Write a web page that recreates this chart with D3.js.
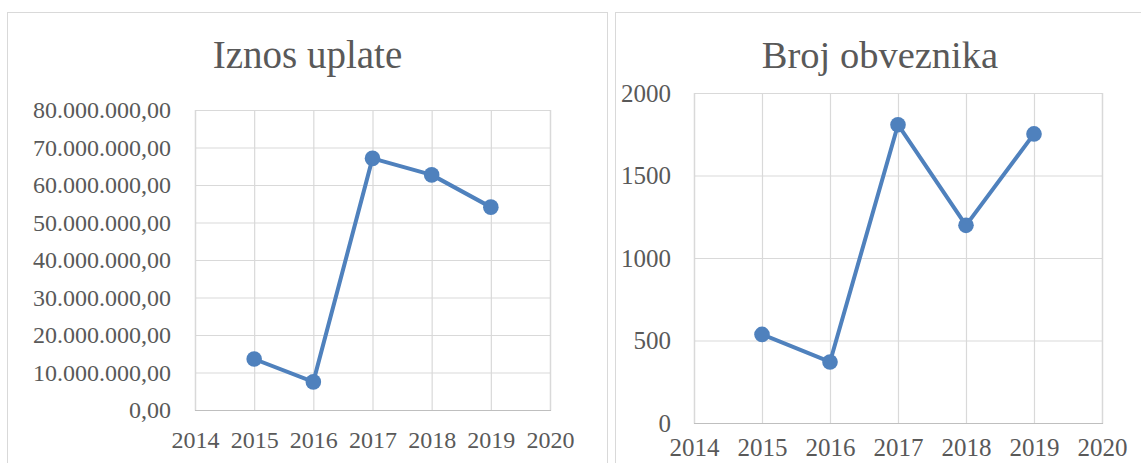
<!DOCTYPE html>
<html>
<head>
  <meta charset="utf-8">
  <title>Iznos uplate / Broj obveznika</title>
  <style>
    body { margin: 0; background: #fff; }
    svg text { font-family: "Liberation Serif", serif; fill: #595959; }
  </style>
</head>
<body>
  <div id="chart"></div>
  <script src="https://cdn.jsdelivr.net/npm/d3@7"></script>
  <script>

    // data
    const years = [2015, 2016, 2017, 2018, 2019];
    const iznosUplate = [13600000, 7500000, 67100000, 62700000, 54100000];
    const brojObveznika = [537, 370, 1808, 1198, 1752];
    const yearTicks = [2014, 2015, 2016, 2017, 2018, 2019, 2020];
    const iznosTicks = [0, 10000000, 20000000, 30000000, 40000000, 50000000, 60000000, 70000000, 80000000];
    const brojTicks = [0, 500, 1000, 1500, 2000];

    const blue = "#4f81bd";
    const grid = "#d9d9d9";

    const svg = d3.select("#chart").append("svg")
      .attr("width", 1141)
      .attr("height", 463);

    svg.append("rect").attr("width", 1141).attr("height", 463).attr("fill", "#fff");

    // 80.000.000,00 style
    function fmtHr(v) {
      let s = v.toFixed(2).split(".");
      return s[0].replace(/\B(?=(\d{3})+(?!\d))/g, ".") + "," + s[1];
    }

    function panel(cfg) {
      const g = svg.append("g");

      // chart border
      g.append("rect")
        .attr("x", cfg.box[0] + 0.5).attr("y", cfg.box[1] + 0.5)
        .attr("width", cfg.box[2]).attr("height", cfg.box[3])
        .attr("fill", "#fff").attr("stroke", grid);

      g.append("text")
        .attr("x", cfg.titleX).attr("y", cfg.titleY)
        .attr("text-anchor", "middle")
        .attr("font-size", cfg.titleSize)
        .text(cfg.title);

      const x = d3.scaleLinear().domain([2014, 2020]).range([cfg.plot.left, cfg.plot.right]);
      const y = d3.scaleLinear().domain([0, d3.max(cfg.yTicks)]).range([cfg.plot.bottom, cfg.plot.top]);

      // horizontal grid + y labels
      const yAxis = d3.axisLeft(y).tickValues(cfg.yTicks).tickFormat(cfg.fmt)
        .tickSize(-(cfg.plot.right - cfg.plot.left)).tickPadding(cfg.yPad);
      const ya = g.append("g").attr("transform", "translate(" + cfg.plot.left + ",0)").call(yAxis);
      ya.select(".domain").remove();
      ya.selectAll("line").attr("stroke", grid).attr("stroke-width", 1.2);
      ya.selectAll("text").attr("font-size", cfg.tickSize).attr("fill", "#595959")
        .attr("font-family", "Liberation Serif");

      // vertical grid + x labels
      const xAxis = d3.axisBottom(x).tickValues(yearTicks).tickFormat(d3.format("d"))
        .tickSize(-(cfg.plot.bottom - cfg.plot.top)).tickPadding(cfg.xPad);
      const xa = g.append("g").attr("transform", "translate(0," + cfg.plot.bottom + ")").call(xAxis);
      xa.select(".domain").attr("stroke", "#bfbfbf").attr("stroke-width", 1.2);
      xa.selectAll("line").attr("stroke", grid).attr("stroke-width", 1.2);
      xa.selectAll("text").attr("font-size", cfg.tickSize).attr("fill", "#595959")
        .attr("font-family", "Liberation Serif");

      const line = d3.line().x((d, i) => x(years[i])).y(d => y(d));
      g.append("path").datum(cfg.values)
        .attr("d", line)
        .attr("fill", "none")
        .attr("stroke", blue)
        .attr("stroke-width", 4)
        .attr("stroke-linejoin", "round");

      g.selectAll("circle.pt").data(cfg.values).join("circle")
        .attr("class", "pt")
        .attr("cx", (d, i) => x(years[i]))
        .attr("cy", d => y(d))
        .attr("r", 7.8)
        .attr("fill", blue);
    }

    panel({
      box: [7, 12, 600, 470],
      title: "Iznos uplate",
      titleX: 307.5, titleY: 68, titleSize: 39,
      plot: { left: 195, right: 550, top: 110, bottom: 410 },
      yTicks: iznosTicks, fmt: fmtHr, yPad: 24, xPad: 21,
      tickSize: 24,
      values: iznosUplate
    });

    panel({
      box: [615, 12, 540, 470],
      title: "Broj obveznika",
      titleX: 880, titleY: 68, titleSize: 38.5,
      plot: { left: 694, right: 1102, top: 93, bottom: 423 },
      yTicks: brojTicks, fmt: d3.format("d"), yPad: 23, xPad: 15,
      tickSize: 25,
      values: brojObveznika
    });

  </script>
</body>
</html>
